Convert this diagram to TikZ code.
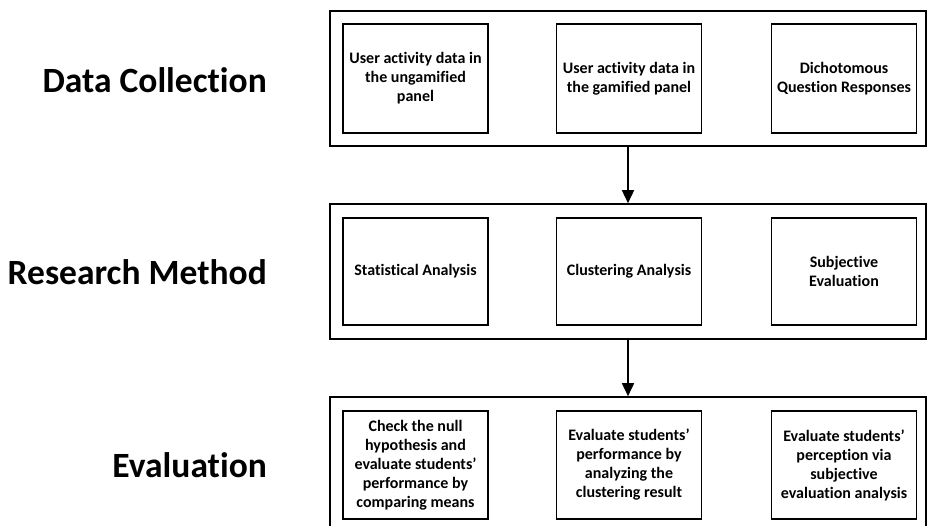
\documentclass[tikz,border=0pt]{standalone}
\usepackage{fontspec}
\setmainfont{Carlito}[Ligatures={NoCommon,NoContextual,NoRare}]
\usetikzlibrary{arrows.meta}
\begin{document}
\begin{tikzpicture}[x=1pt,y=-1pt,
  outerbox/.style={draw=black, line width=1.6pt, minimum width=596pt, minimum height=135pt, inner sep=0pt},
  innerbox/.style={draw=black, line width=1.6pt, minimum width=145pt, inner sep=0pt, align=center, font=\fontsize{16}{19}\selectfont\bfseries},
  stagelabel/.style={anchor=east, inner sep=0pt, font=\fontsize{35.5}{40}\selectfont\bfseries},
  flow/.style={line width=1.6pt, -{Triangle[width=12pt,length=13pt]}}]
\useasboundingbox (0,0) rectangle (928,526);
% outer boxes
\node[outerbox] (dc) at (628,78.5) {};
\node[outerbox] (rm) at (628,271.5) {};
\node[outerbox] (ev) at (628,464.5) {};
% stage labels
\node[stagelabel] (ldc) at (267,80) {Data Collection};
\node[stagelabel] (lrm) at (267,272) {Research Method};
\node[stagelabel] (lev) at (267,465) {Evaluation};
% data collection
\node[innerbox, minimum height=109pt] (d1) at (415.5,78.5) {User activity data in\\the ungamified\\panel};
\node[innerbox, minimum height=109pt] (d2) at (629,78.5) {User activity data in\\the gamified panel};
\node[innerbox, minimum height=109pt] (d3) at (844,78.5) {Dichotomous\\Question Responses};
% research method
\node[innerbox, minimum height=107pt] (r1) at (415.5,271.5) {Statistical Analysis};
\node[innerbox, minimum height=107pt] (r2) at (629,271.5) {Clustering Analysis};
\node[innerbox, minimum height=107pt] (r3) at (844,271.5) {Subjective\\Evaluation};
% evaluation
\node[innerbox, minimum height=108pt] (e1) at (415.5,465) {Check the null\\hypothesis and\\evaluate students’\\performance by\\comparing means};
\node[innerbox, minimum height=108pt] (e2) at (629,465) {Evaluate students’\\performance by\\analyzing the\\clustering result};
\node[innerbox, minimum height=108pt] (e3) at (844,465) {Evaluate students’\\perception via\\subjective\\evaluation analysis};
% arrows
\draw[flow] (dc.south) -- (rm.north);
\draw[flow] (rm.south) -- (ev.north);
\end{tikzpicture}
\end{document}
